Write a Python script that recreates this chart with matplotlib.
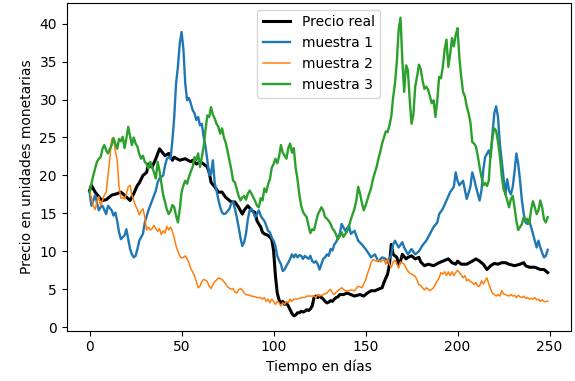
import numpy as np
import matplotlib as mpl; mpl.use('Agg')
import matplotlib.pyplot as plt

# precio real
dias_real = [0,1,3,6,7,9,12,15,17,18,22,24,26,27,29,31,32,34,36,38,40,41,43,45,46,49,52,55,56,58,
             60,62,64,65,66,68,70,72,74,75,77,79,81,83,84,86,88,90,91,93,94,95,97,99,100,101,102,103,104,105,
             106,107,108,109,110,111,112,113,114,115,116,117,118,119,120,121,122,123,124,125,126,127,128,129,130,131,132,133,134,135,
             136,138,140,142,144,147,149,151,153,155,157,159,160,162,163,164,165,167,168,169,170,172,173,175,177,179,180,182,184,187,
             190,192,195,197,199,200,202,205,208,210,212,214,216,218,220,222,224,226,228,231,234,236,237,239,242,245,247,249]
precio_real = [18.0,18.7,17.8,16.9,16.7,16.8,17.4,17.6,17.8,17.6,16.7,17.6,18.7,19.0,20.0,20.4,21.5,21.1,22.2,23.5,22.9,22.6,22.9,22.0,22.4,22.0,22.2,21.8,22.0,21.5,
               21.8,21.5,21.1,20.4,19.1,18.5,17.8,17.8,17.1,16.9,16.5,16.5,15.8,14.9,15.4,16.0,15.4,15.1,14.0,13.2,12.5,12.3,12.1,11.6,10.1,6.8,4.5,3.6,3.2,3.4,
               3.0,3.2,2.8,2.3,1.8,1.5,1.6,1.9,1.9,2.1,2.0,2.1,2.3,2.2,2.4,2.8,3.9,4.1,3.9,4.1,3.9,3.7,3.4,3.2,3.3,3.5,3.4,3.7,3.9,4.0,
               4.3,4.3,4.5,4.3,4.1,4.3,4.1,4.5,4.8,4.8,5.0,5.2,5.9,7.0,8.3,10.9,9.6,9.2,8.3,8.7,9.6,9.0,9.2,9.4,9.0,9.2,8.6,8.1,8.3,8.1,
               8.5,8.7,9.0,8.5,8.3,8.7,8.3,8.3,8.7,9.0,8.7,8.3,7.6,8.1,8.4,8.3,8.5,8.5,8.3,8.1,8.3,8.5,8.1,7.9,7.9,7.6,7.6,7.2]

# muestra 1
dias_m1 = [0,1,3,5,6,7,9,10,12,13,14,15,16,17,19,20,21,22,23,24,25,26,27,29,30,32,34,36,37,38,
           40,41,42,43,44,45,46,47,48,49,50,51,52,53,54,55,56,57,58,59,60,61,62,63,64,65,66,67,68,69,
           70,71,72,73,74,76,77,78,79,80,81,82,83,84,85,86,87,88,89,90,91,92,93,94,95,96,97,98,99,100,
           101,102,103,104,105,106,107,108,109,110,111,112,113,114,115,116,117,118,119,120,121,122,123,124,125,126,127,128,129,130,
           131,132,133,134,135,136,137,139,141,142,144,146,148,150,152,153,155,157,159,161,162,164,165,166,168,170,171,173,175,177,
           179,180,181,183,185,187,189,190,192,194,196,198,199,200,201,203,205,207,208,209,210,212,213,214,215,217,218,219,220,221,
           222,223,224,225,226,227,228,229,230,231,232,233,234,235,236,237,238,239,240,241,242,243,244,245,246,247,248,249]
muestra1 = [17.8,16.0,17.4,15.4,15.8,16.0,14.9,16.0,15.4,14.7,15.1,14.0,12.5,11.6,12.1,12.9,11.6,10.3,9.6,9.2,9.4,10.3,11.4,12.3,13.8,15.4,16.7,18.0,19.1,19.6,
            20.0,21.3,22.2,22.4,22.2,24.6,27.7,32.1,34.3,37.4,38.9,36.6,32.1,29.9,30.2,29.5,28.6,28.2,27.3,27.7,26.6,26.8,25.1,23.8,22.0,20.0,20.2,22.0,19.0,18.0,
            16.8,15.8,15.1,14.9,15.0,15.6,16.3,16.5,15.6,14.5,13.2,11.8,10.7,11.2,12.3,14.2,15.4,15.6,15.1,14.5,14.9,15.4,14.7,14.3,14.0,13.4,12.7,12.5,11.8,11.4,
            10.7,9.4,8.8,8.3,7.4,7.6,8.1,8.5,9.0,9.6,9.2,9.6,9.2,9.5,9.4,9.0,9.4,9.2,9.0,9.4,8.7,8.5,8.7,8.3,7.6,8.3,9.0,9.2,9.6,9.4,
            10.3,10.1,10.9,11.2,11.8,12.3,13.6,12.7,13.4,12.3,12.7,11.4,10.9,10.3,9.6,9.2,9.6,8.7,9.2,9.0,8.5,9.6,10.9,11.4,10.5,11.2,10.5,9.6,10.3,9.6,
            10.0,10.4,10.8,11.4,12.3,13.2,13.8,14.9,15.6,16.7,17.8,18.5,20.4,19.3,18.7,19.3,16.9,18.5,20.4,19.6,18.5,16.7,18.0,20.7,22.4,23.3,22.4,25.5,28.2,29.1,
            27.7,24.2,22.0,19.8,17.5,19.5,18.0,17.5,18.5,20.5,22.9,21.5,19.3,16.7,14.9,13.8,13.6,14.0,13.2,12.3,11.4,10.5,11.4,10.5,9.8,9.2,9.4,10.2]

# muestra 2
dias_m2 = [0,1,2,3,4,5,6,7,8,9,10,11,12,13,14,15,16,17,18,19,20,21,22,23,24,25,26,27,28,29,
           30,31,32,33,34,35,36,37,38,39,40,41,42,43,44,45,46,47,48,49,50,51,52,53,54,55,56,57,58,59,
           60,61,62,63,64,65,66,67,68,69,70,71,72,73,74,75,77,78,79,80,81,82,83,84,85,87,88,90,91,93,
           94,95,96,97,98,99,100,101,102,103,104,105,106,107,108,109,110,111,113,115,117,118,120,122,123,124,125,127,129,130,
           131,132,133,134,135,136,137,139,141,142,144,146,148,149,150,151,152,153,154,156,157,158,160,161,162,163,164,165,166,167,
           168,169,171,172,173,174,175,177,178,179,180,181,182,183,184,185,187,188,189,190,191,192,193,194,195,196,197,198,199,200,
           201,202,203,204,205,206,207,208,209,210,211,212,213,214,215,216,217,218,219,220,221,222,223,224,225,226,228,229,230,231,
           232,233,234,235,236,237,238,239,240,241,242,243,244,245,246,247,248,249]
muestra2 = [17.8,17.1,16.0,15.5,16.5,17.2,16.0,16.7,17.4,17.8,20.0,22.2,24.8,25.0,23.2,22.0,18.5,17.0,17.1,16.9,17.6,18.5,18.7,17.4,16.7,16.0,15.5,14.8,15.3,15.6,
            14.5,12.8,13.2,12.8,13.0,13.4,13.0,12.6,13.0,12.2,12.7,12.4,13.3,12.8,13.2,12.6,11.8,10.7,10.0,9.4,9.1,9.2,9.4,9.0,8.5,7.7,7.3,6.8,6.0,5.2,
            5.4,6.0,6.3,6.2,6.0,5.4,5.1,5.6,6.0,6.2,6.5,6.4,6.3,6.0,5.7,5.3,5.0,5.1,4.6,4.5,4.9,5.1,4.9,4.5,4.3,4.2,4.1,4.0,3.9,3.9,
            3.7,3.9,3.4,3.7,3.2,3.7,3.4,3.0,3.4,3.2,2.8,3.2,3.0,3.4,3.2,3.7,3.4,3.7,3.7,3.9,3.9,4.1,4.1,4.1,3.9,4.3,4.1,4.3,4.5,4.8,
            5.0,4.5,4.3,4.6,4.8,5.0,5.2,4.8,4.8,4.9,4.8,5.4,5.2,5.7,6.2,7.0,7.7,8.5,8.9,8.7,8.9,8.6,8.9,8.3,9.0,8.3,7.9,8.6,8.8,8.3,
            7.8,8.6,8.3,7.8,7.4,7.1,7.0,6.7,6.2,5.6,5.5,5.2,4.9,5.2,5.0,4.8,5.2,5.7,6.1,6.5,7.2,7.0,7.3,6.8,7.3,6.8,7.3,6.8,7.2,7.5,
            7.2,6.9,6.5,6.8,6.1,6.3,6.0,5.9,5.6,5.9,5.4,5.4,6.1,5.7,6.1,6.5,5.7,5.0,4.5,4.3,4.1,4.3,4.1,4.8,4.4,4.3,4.1,4.3,4.1,4.2,
            3.9,4.2,4.0,3.9,4.1,3.8,3.9,3.7,3.8,3.7,3.9,3.6,3.7,3.4,3.6,3.4,3.35,3.45]

# muestra 3 (diaria)
dias_m3 = list(range(250))
muestra3 = [17.8,18.9,20.0,20.9,21.8,22.2,22.4,23.5,24.0,23.3,22.9,23.5,24.0,24.9,24.2,23.5,24.8,24.5,25.1,23.6,
            24.9,26.4,25.2,24.0,25.0,24.2,23.8,22.8,22.2,22.6,21.8,21.5,20.9,21.8,21.1,20.4,19.6,21.8,20.6,19.0,
            17.4,16.5,15.5,14.9,15.3,16.1,15.8,14.7,13.8,15.5,17.8,18.7,19.3,18.9,19.8,20.5,21.1,22.4,22.0,22.9,
            21.1,22.4,23.8,26.0,27.9,27.7,29.0,28.0,27.5,26.8,26.4,25.5,26.2,25.0,24.3,23.2,22.0,20.8,19.3,19.1,
            18.2,17.3,16.7,17.1,17.3,16.8,17.6,18.0,17.6,17.1,16.6,16.0,15.8,17.0,16.7,18.3,17.8,18.8,19.5,21.0,
            21.5,22.2,21.6,22.5,24.0,23.0,22.6,22.2,23.6,24.2,23.0,23.6,21.0,19.5,17.5,16.0,15.2,14.8,14.5,13.4,
            12.4,12.9,12.8,13.8,14.8,15.3,15.8,15.4,14.5,14.3,14.0,13.6,13.0,12.7,12.2,11.6,12.0,12.5,11.9,12.3,
            12.6,13.3,14.2,14.9,15.6,16.7,18.5,17.6,16.4,15.4,16.0,16.8,17.6,18.3,19.5,20.3,21.1,22.2,23.1,24.2,
            25.0,25.8,25.7,26.6,27.8,30.3,32.1,35.0,39.2,40.8,35.2,31.0,34.5,33.9,30.0,26.8,28.0,31.7,33.0,34.6,
            34.0,32.5,31.4,31.7,31.3,30.4,29.5,29.9,27.7,29.9,33.0,32.8,34.3,36.6,37.9,34.3,36.0,38.1,37.0,38.5,
            39.4,35.5,33.0,31.0,30.4,29.1,28.2,27.0,24.4,24.2,23.8,22.6,21.1,19.8,18.7,19.0,18.6,19.3,23.0,25.0,
            26.2,25.9,24.4,22.6,20.0,18.2,17.6,16.7,15.8,16.9,17.3,15.8,14.0,12.8,13.2,13.6,14.5,14.0,14.3,13.6,
            15.5,16.6,15.8,14.9,15.4,16.7,15.8,14.2,13.8,14.5]

fig = plt.figure(figsize=(5.75, 3.81), dpi=100)
ax = fig.add_axes([0.116, 0.132, 0.8763, 0.861])
ax.plot(dias_real, precio_real, color='k', lw=2.2, label='Precio real')
ax.plot(dias_m1, muestra1, color='#1f77b4', lw=1.7, label='muestra 1')
ax.plot(dias_m2, muestra2, color='#ff7f0e', lw=1.1, label='muestra 2')
ax.plot(dias_m3, muestra3, color='#2ca02c', lw=1.7, label='muestra 3')
ax.set_xlabel('Tiempo en días')
ax.set_ylabel('Precio en unidades monetarias')
ax.set_xticks([0, 50, 100, 150, 200, 250])
ax.legend(loc='upper center')
fig.savefig('out.png', dpi=100)
